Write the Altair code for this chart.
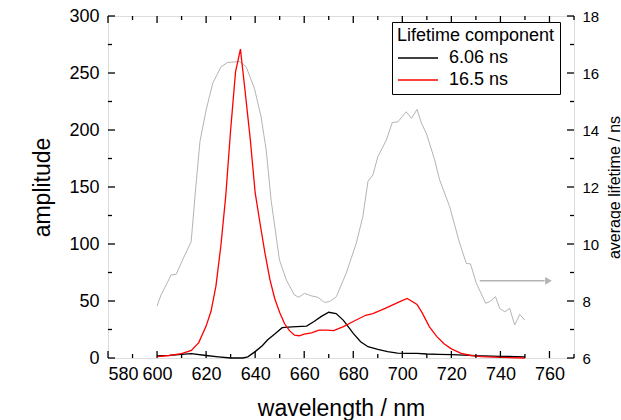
import altair as alt
import pandas as pd

# ---------------- data ----------------
black_nm = [600, 605, 610, 614, 620, 625, 630, 635, 637, 640, 643, 645, 648, 651, 655, 661,
            664, 667, 670, 673, 676, 680, 683, 686, 690, 694, 698, 702, 706, 710, 715, 720,
            730, 740, 750]
black_amp = [1.8, 2.3, 3.2, 3.8, 2.2, 1.0, 0.0, 0.0, 1.0, 5.6, 11.0, 15.8, 21.0, 26.6, 27.3, 28.0,
             32.0, 36.5, 40.1, 39.0, 33.0, 21.6, 14.3, 9.9, 7.6, 5.6, 4.2, 4.0, 4.0, 3.5, 3.2, 3.0,
             2.0, 1.5, 1.0]

red_nm = [600, 605, 610, 614, 617, 620, 622, 624, 626, 628, 630, 632, 634, 636, 638, 640,
          642, 644, 646, 648, 650, 652, 654, 656, 658, 660, 663, 666, 669, 672, 676, 680,
          685, 688, 693, 699, 702, 706, 708, 711, 714, 717, 720, 724, 728, 732, 740, 750]
red_amp = [1.2, 2.2, 3.8, 6.7, 13.5, 28, 41, 63, 98, 142, 200, 251, 271, 232, 192, 145,
           118, 92, 69, 52, 40, 30, 24, 20, 19.5, 21, 22, 24.5, 24.5, 24, 27.5, 32,
           37.5, 39, 43.5, 49.5, 52.3, 47, 40, 27.5, 19, 12.5, 8, 4, 2.2, 1.2, 0.5, 0.0]

grey_nm = [600, 601.6, 603.7, 605.7, 607.8, 610.4, 613.9, 615.7, 617.5, 620, 622.7, 626.1,
           628.8, 633.6, 636.3, 639.7, 642.4, 644.5, 646.5, 649.9, 652.7, 656, 657.8, 660.1,
           662.9, 665.6, 668.3, 670.3, 673.1, 677.1, 681.2, 683.9, 686, 688, 690, 693.5,
           695.9, 698.2, 701.6, 703.7, 706, 707.8, 709.8, 713.2, 715.2, 719.3, 723.4, 726.1,
           727.8, 730.2, 734, 735.7, 738, 739.7, 741.8, 743.8, 745.8, 747.9, 749.9]
grey_tau = [7.82, 8.21, 8.56, 8.91, 8.94, 9.44, 10.08, 11.9, 13.6, 14.7, 15.64, 16.22,
            16.37, 16.4, 16.22, 15.46, 14.47, 13.3, 11.54, 9.44, 8.74, 8.21, 8.13, 8.27,
            8.18, 8.13, 7.95, 7.98, 8.15, 8.97, 10.02, 10.96, 12.2, 12.42, 13.06, 13.65,
            14.26, 14.29, 14.64, 14.41, 14.72, 14.24, 13.88, 12.95, 12.25, 11.31, 10.02, 9.32,
            9.3, 8.62, 7.92, 7.98, 8.15, 7.74, 7.62, 7.74, 7.16, 7.53, 7.33]

series_names = ["6.06 ns", "16.5 ns"]
series_colors = ["black", "red"]

arrow_nm = [731.6, 758.0]
arrow_head_nm = [759.6]
arrow_tau = [8.71]

x_labels = [580, 600, 620, 640, 660, 680, 700, 720, 740, 760]
x_major_ticks = [580, 600, 620, 640, 660, 680, 700, 720, 740, 760]
x_minor_ticks = [590, 610, 630, 650, 670, 690, 710, 730, 750, 770]
left_labels = [0, 50, 100, 150, 200, 250, 300]
left_minor = [25, 75, 125, 175, 225, 275]
right_labels = [6, 8, 10, 12, 14, 16, 18]
right_minor = [7, 9, 11, 13, 15, 17]

# ---------------- layout ----------------
W, H = 466, 342
FONT = "Liberation Sans"
MAJ, MIN = 7, 4
GREY = "#b4b4b4"

df_lines = pd.DataFrame({
    "nm": black_nm + red_nm,
    "amp": black_amp + red_amp,
    "series": [series_names[0]] * len(black_nm) + [series_names[1]] * len(red_nm),
})
df_grey = pd.DataFrame({"nm": grey_nm, "tau": grey_tau})
df_arrow = pd.DataFrame({"nm": [arrow_nm[0]], "nm2": [arrow_nm[1]], "tau": arrow_tau})
df_head = pd.DataFrame({"nm": arrow_head_nm, "tau": arrow_tau})

x_scale = alt.Scale(domain=[580, 770], nice=False, zero=False)
yl_scale = alt.Scale(domain=[0, 300], nice=False, zero=False)
yr_scale = alt.Scale(domain=[6, 18], nice=False, zero=False)

x_axis = alt.Axis(title="wavelength / nm", values=x_labels, format="d", ticks=False,
                  domain=False, grid=False, labelFontSize=18, labelPadding=7,
                  labelColor="black", titleColor="black", titleFontSize=23,
                  titleFontWeight="normal", titleX=W / 2, titleY=50,
                  titleAlign="center", titleBaseline="middle", orient="bottom")
yl_axis = alt.Axis(title="amplitude", values=left_labels, format="d", ticks=False,
                   domain=False, grid=False, labelFontSize=18, labelPadding=9,
                   labelColor="black", titleColor="black", titleFontSize=23,
                   titleFontWeight="normal", titleAngle=270, titleX=-66, titleY=H / 2,
                   titleAlign="center", titleBaseline="middle", orient="left")
yr_axis = alt.Axis(title="average lifetime / ns", values=right_labels, format="d",
                   ticks=False, domain=False, grid=False, labelFontSize=15,
                   labelPadding=8, labelColor="black", titleColor="black",
                   titleFontSize=16, titleFontWeight="normal", titleAngle=270,
                   titleX=40, titleY=H / 2, titleAlign="center",
                   titleBaseline="middle", orient="right")

X = lambda f="nm": alt.X(f"{f}:Q", scale=x_scale, axis=x_axis)

# ----- left group (amplitude) -----
lines = alt.Chart(df_lines).mark_line(strokeWidth=1.3).encode(
    x=X(),
    y=alt.Y("amp:Q", scale=yl_scale, axis=yl_axis),
    color=alt.Color("series:N",
                    scale=alt.Scale(domain=series_names, range=series_colors),
                    sort=series_names,
                    legend=alt.Legend(title="Lifetime component", orient="none",
                                      legendX=284, legendY=6, direction="vertical",
                                      symbolType="stroke", symbolSize=1600,
                                      symbolStrokeWidth=1.3, labelOffset=10,
                                      clipHeight=18,
                                      labelFontSize=18, titleFontSize=18,
                                      titleFontWeight="normal", padding=5,
                                      rowPadding=4, titlePadding=4,
                                      strokeColor="black", fillColor="white",
                                      labelColor="black", titleColor="black",
                                      labelFont=FONT, titleFont=FONT)),
)


def xticks(vals, top, length):
    d = pd.DataFrame({"nm": vals})
    y0 = 0 if top else H
    y1 = length if top else H - length
    return alt.Chart(d).mark_rule(color="black", strokeWidth=1.3).encode(
        x=X(), y=alt.value(y0), y2=alt.value(y1))


def yticks(vals, scale, axis, right, length):
    d = pd.DataFrame({"v": vals})
    x0 = W if right else 0
    x1 = W - length if right else length
    return alt.Chart(d).mark_rule(color="black", strokeWidth=1.3).encode(
        y=alt.Y("v:Q", scale=scale, axis=axis), x=alt.value(x0), x2=alt.value(x1))


left = alt.layer(
    lines,
    yticks(left_labels, yl_scale, yl_axis, False, MAJ),
    yticks(left_minor, yl_scale, yl_axis, False, MIN),
    xticks(x_major_ticks, False, MAJ),
    xticks(x_minor_ticks, False, MIN),
    xticks(x_major_ticks, True, MAJ),
    xticks(x_minor_ticks, True, MIN),
)

# ----- right group (average lifetime) -----
grey = alt.Chart(df_grey).mark_line(color=GREY, strokeWidth=1).encode(
    x=X(), y=alt.Y("tau:Q", scale=yr_scale, axis=yr_axis))
arrow = alt.Chart(df_arrow).mark_rule(color=GREY, strokeWidth=1.5).encode(
    x=X(), x2="nm2:Q", y=alt.Y("tau:Q", scale=yr_scale, axis=yr_axis))
head = alt.Chart(df_head).mark_point(shape="triangle-right", filled=True, color=GREY,
                                     opacity=1, size=60).encode(
    x=X(), y=alt.Y("tau:Q", scale=yr_scale, axis=yr_axis))

right = alt.layer(
    grey, arrow, head,
    yticks(right_labels, yr_scale, yr_axis, True, MAJ),
    yticks(right_minor, yr_scale, yr_axis, True, MIN),
)

chart = alt.layer(right, left).resolve_scale(y="independent").properties(
    width=W, height=H,
    autosize=alt.AutoSizeParams(type="none"),
    padding={"left": 108, "top": 16, "right": 621 - 108 - W, "bottom": 420 - 16 - H},
).configure_view(stroke="black", strokeWidth=1.5).configure_axis(
    labelFont=FONT, titleFont=FONT
).configure(background="white")

chart.save("out.html", embed_options={"renderer": "svg", "actions": False})
